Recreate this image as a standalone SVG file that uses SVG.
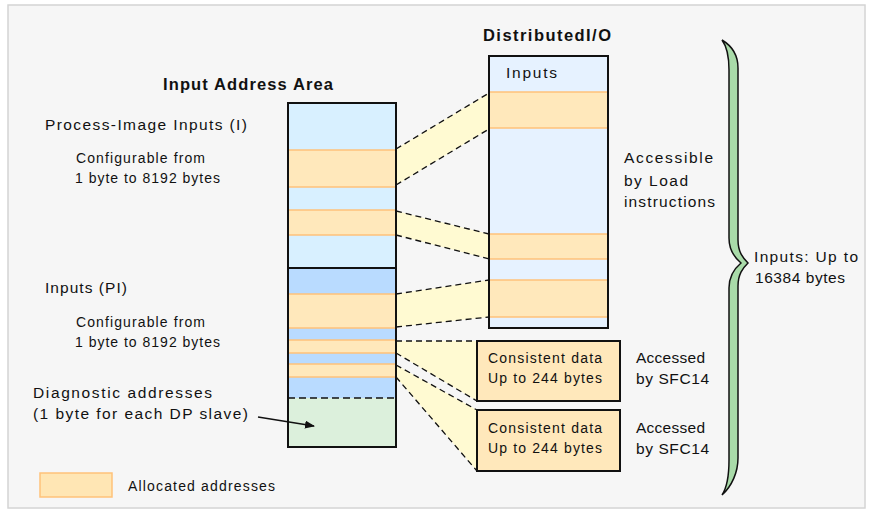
<svg xmlns="http://www.w3.org/2000/svg" width="873" height="515" viewBox="0 0 873 515">
<style>
text{font-family:"Liberation Sans",Arial,sans-serif;fill:#111;}
.t{font-size:15.5px;}
.s{font-size:14px;}
.b{font-size:16.5px;font-weight:bold;}
.band{fill:#ffe8bb;stroke:none;}
.bl{stroke:#ffc27a;stroke-width:1.5;}
.col{fill:none;stroke:#111;stroke-width:2;}
.conn{fill:#fffad2;stroke:none;}
.dash{stroke:#111;stroke-width:1.3;stroke-dasharray:6 4;fill:none;}
.box{fill:#ffe8bb;stroke:#111;stroke-width:2;}
</style>
<defs>
<marker id="ah" markerWidth="10" markerHeight="8" refX="9" refY="4" orient="auto" markerUnits="userSpaceOnUse">
<path d="M0,0 L10,4 L0,8 Z" fill="#111"/>
</marker>
</defs>
<rect x="0" y="0" width="873" height="515" fill="#ffffff"/>
<rect x="8" y="5" width="857" height="503" fill="#f6f6f6" stroke="#d4d4d4" stroke-width="1.5"/>

<g id="connectors">
<polygon class="conn" points="396,149 489,93 489,129 396,185"/>
<line class="dash" x1="396" y1="149" x2="489" y2="93"/>
<line class="dash" x1="396" y1="185" x2="489" y2="129"/>
<polygon class="conn" points="396,211 489,234 489,259 396,235"/>
<line class="dash" x1="396" y1="211" x2="489" y2="234"/>
<line class="dash" x1="396" y1="235" x2="489" y2="259"/>
<polygon class="conn" points="396,294 489,280 489,317 396,327"/>
<line class="dash" x1="396" y1="294" x2="489" y2="280"/>
<line class="dash" x1="396" y1="327" x2="489" y2="317"/>
<polygon class="conn" points="396,341 477,341 477,401 396,353"/>
<line class="dash" x1="396" y1="341" x2="477" y2="341"/>
<line class="dash" x1="396" y1="353" x2="477" y2="401"/>
<polygon class="conn" points="396,365 477,410 477,471 396,377"/>
<line class="dash" x1="396" y1="365" x2="477" y2="410"/>
<line class="dash" x1="396" y1="377" x2="477" y2="471"/>
</g>

<g id="input-area">
<rect x="288" y="103" width="108" height="165" fill="#d8f0ff"/>
<rect x="288" y="268" width="108" height="130" fill="#b9dbff"/>
<rect x="288" y="398" width="108" height="49" fill="#dcf0dc"/>
<rect class="band" x="288" y="150" width="108" height="37"/>
<rect class="band" x="288" y="210" width="108" height="25"/>
<rect class="band" x="288" y="294" width="108" height="34"/>
<rect class="band" x="288" y="340" width="108" height="13"/>
<rect class="band" x="288" y="364" width="108" height="13"/>
<g class="bl">
<line x1="288" y1="150" x2="396" y2="150"/><line x1="288" y1="187" x2="396" y2="187"/>
<line x1="288" y1="210" x2="396" y2="210"/><line x1="288" y1="235" x2="396" y2="235"/>
<line x1="288" y1="294" x2="396" y2="294"/><line x1="288" y1="328" x2="396" y2="328"/>
<line x1="288" y1="340" x2="396" y2="340"/><line x1="288" y1="353" x2="396" y2="353"/>
<line x1="288" y1="364" x2="396" y2="364"/><line x1="288" y1="377" x2="396" y2="377"/>
</g>
<line x1="288" y1="268" x2="396" y2="268" stroke="#111" stroke-width="2"/>
<line x1="288" y1="398" x2="396" y2="398" stroke="#111" stroke-width="1.5" stroke-dasharray="7 4"/>
<rect class="col" x="288" y="103" width="108" height="344"/>
<text class="b" x="163" y="90" textLength="170">Input Address Area</text>
</g>

<g id="diag-arrow">
<line x1="258" y1="417" x2="314" y2="426" stroke="#111" stroke-width="1.3" marker-end="url(#ah)"/>
</g>

<g id="distributed-io">
<rect x="489" y="56" width="119" height="272" fill="#e6f2ff"/>
<rect class="band" x="489" y="92" width="119" height="36"/>
<rect class="band" x="489" y="234" width="119" height="25"/>
<rect class="band" x="489" y="280" width="119" height="37"/>
<g class="bl">
<line x1="489" y1="92" x2="608" y2="92"/><line x1="489" y1="128" x2="608" y2="128"/>
<line x1="489" y1="234" x2="608" y2="234"/><line x1="489" y1="259" x2="608" y2="259"/>
<line x1="489" y1="280" x2="608" y2="280"/><line x1="489" y1="317" x2="608" y2="317"/>
</g>
<rect class="col" x="489" y="56" width="119" height="272"/>
<text class="b" x="483" y="41" textLength="128">DistributedI/O</text>
<text class="t" x="506" y="78" textLength="51">Inputs</text>
</g>

<g id="consistent-1">
<rect class="box" x="477" y="341" width="143" height="60"/>
<text class="s" x="488" y="363" textLength="114">Consistent data</text>
<text class="s" x="488" y="383" textLength="114">Up to 244 bytes</text>
</g>
<g id="consistent-2">
<rect class="box" x="477" y="410" width="143" height="61"/>
<text class="s" x="488" y="433" textLength="114">Consistent data</text>
<text class="s" x="488" y="453" textLength="114">Up to 244 bytes</text>
</g>

<g id="brace">
<path d="M722,40 C732,46 738,56 738,68 L738,240 C738,252 743,258 748,263 C743,268 738,274 738,286 L738,458 C738,472 732,486 722,495 C728,486 729,472 729,460 L729,288 C729,276 735,268 741,263 C735,258 729,250 729,238 L729,70 C729,58 728,48 722,40 Z" fill="#a9dba9" stroke="#111" stroke-width="1.5"/>
</g>

<g id="labels">
<text class="t" x="45" y="130" textLength="202">Process-Image Inputs (I)</text>
<text class="s" x="76" y="163" textLength="129">Configurable from</text>
<text class="s" x="75" y="183" textLength="145">1 byte to 8192 bytes</text>
<text class="t" x="45" y="293" textLength="82">Inputs (PI)</text>
<text class="s" x="76" y="327" textLength="129">Configurable from</text>
<text class="s" x="75" y="347" textLength="145">1 byte to 8192 bytes</text>
<text class="t" x="33" y="398" textLength="179">Diagnostic  addresses</text>
<text class="t" x="33" y="419" textLength="215">(1 byte for each DP slave)</text>
<text class="t" x="624" y="163" textLength="89">Accessible</text>
<text class="t" x="624" y="186" textLength="64">by Load</text>
<text class="t" x="624" y="207" textLength="91">instructions</text>
<text class="t" x="636" y="363" textLength="69">Accessed</text>
<text class="t" x="636" y="384" textLength="73">by SFC14</text>
<text class="t" x="636" y="433" textLength="69">Accessed</text>
<text class="t" x="636" y="454" textLength="73">by SFC14</text>
<text class="t" x="754" y="262" textLength="104">Inputs: Up to</text>
<text class="t" x="755" y="283" textLength="90">16384 bytes</text>
</g>

<g id="legend">
<rect x="40" y="473" width="72" height="24" fill="#ffe6b4" stroke="#ffc27a" stroke-width="1.5"/>
<text class="s" x="128" y="491" textLength="147">Allocated addresses</text>
</g>
</svg>
